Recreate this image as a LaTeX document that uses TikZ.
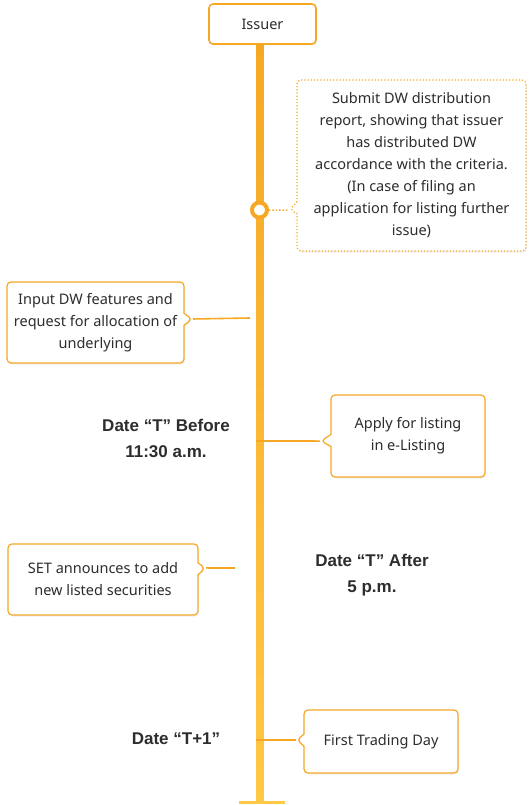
\documentclass[tikz,border=0pt]{standalone}
\usepackage{fontspec}
\setmainfont{Noto Sans}
\newfontfamily\datefont{Liberation Sans}
\usetikzlibrary{shapes.callouts,shadows}
\definecolor{amber}{RGB}{246,168,36}
\definecolor{sun}{RGB}{255,200,70}
\definecolor{ink}{RGB}{45,45,45}

\begin{document}
\begin{tikzpicture}[
    x=1pt, y=-1pt,
    box/.style={draw=amber, line width=1.2pt, rounded corners=4pt, fill=white, align=center,
        text=ink, font=\fontsize{14.5}{22}\selectfont, inner sep=0pt,
        drop shadow={opacity=0.12, shadow xshift=1pt, shadow yshift=-1.5pt}},
    note/.style={box, rectangle callout, callout pointer width=12pt},
    link/.style={amber, line width=1.6pt},
    date/.style={font=\datefont\bfseries\fontsize{17}{26}\selectfont, text=ink, align=center}
]
\useasboundingbox (0,0) rectangle (532,805);

% Timeline
\shade[top color=amber, bottom color=sun] (256.5,44) rectangle (263.5,802);
\draw[sun, line width=3pt] (239,802) -- (285,802);

% Issuer
\node[box, line width=1.6pt, minimum width=107pt, minimum height=40pt, text depth=0pt] (issuer) at (262.5,24) {Issuer};

% Notch tips and line ends
\coordinate (n0) at (290,210);
\coordinate (n1) at (192,319);
\coordinate (n2) at (321,441);
\coordinate (n3) at (205,568);
\coordinate (n4) at (297,740);

% Distribution report
\node[note, dotted, minimum width=229pt, minimum height=171pt,
      callout absolute pointer={(n0)}] (report) at (411.5,165.5)
  {\raisebox{-3pt}{\parbox{220pt}{\centering Submit DW distribution\\report, showing that issuer\\has distributed DW\\accordance with the criteria.\\(In case of filing an\\application for listing further\\issue)}}};
\node[circle, draw=amber, line width=4pt, fill=white, minimum size=15pt, inner sep=0pt] (dot) at (259.5,210) {};
\draw[amber, line width=1.4pt, dotted] (dot) -- (report.pointer);

% Input DW features
\node[note, minimum width=177pt, minimum height=81pt,
      callout absolute pointer={(n1)}] (input) at (95.5,322.5)
  {Input DW features and\\request for allocation of\\underlying};
\coordinate (t1) at (250,318);
\draw[link] (input.pointer) -- (t1);

% Date T before
\node[date] (before) at (166,438) {Date “T” Before\\11:30 a.m.};
\node[note, minimum width=154pt, minimum height=82pt,
      callout absolute pointer={(n2)}] (listing) at (408,436)
  {Apply for listing\\in e-Listing};
\coordinate (t2) at (256,441);
\draw[link] (t2) -- (listing.pointer);

% SET announces
\node[note, minimum width=190pt, minimum height=71pt,
      callout absolute pointer={(n3)}] (announce) at (103,579.5)
  {SET announces to add\\new listed securities};
\coordinate (t3) at (235,568);
\draw[link] (announce.pointer) -- (t3);
\node[date] (after) at (372,575) {Date “T” After\\5 p.m.};

% Date T+1
\node[date] (next) at (176,739) {Date “T+1”};
\node[note, minimum width=154pt, minimum height=63pt,
      callout absolute pointer={(n4)}] (trading) at (381,741.5)
  {First Trading Day};
\coordinate (t4) at (256,740);
\draw[link] (t4) -- (trading.pointer);
\end{tikzpicture}
\end{document}
